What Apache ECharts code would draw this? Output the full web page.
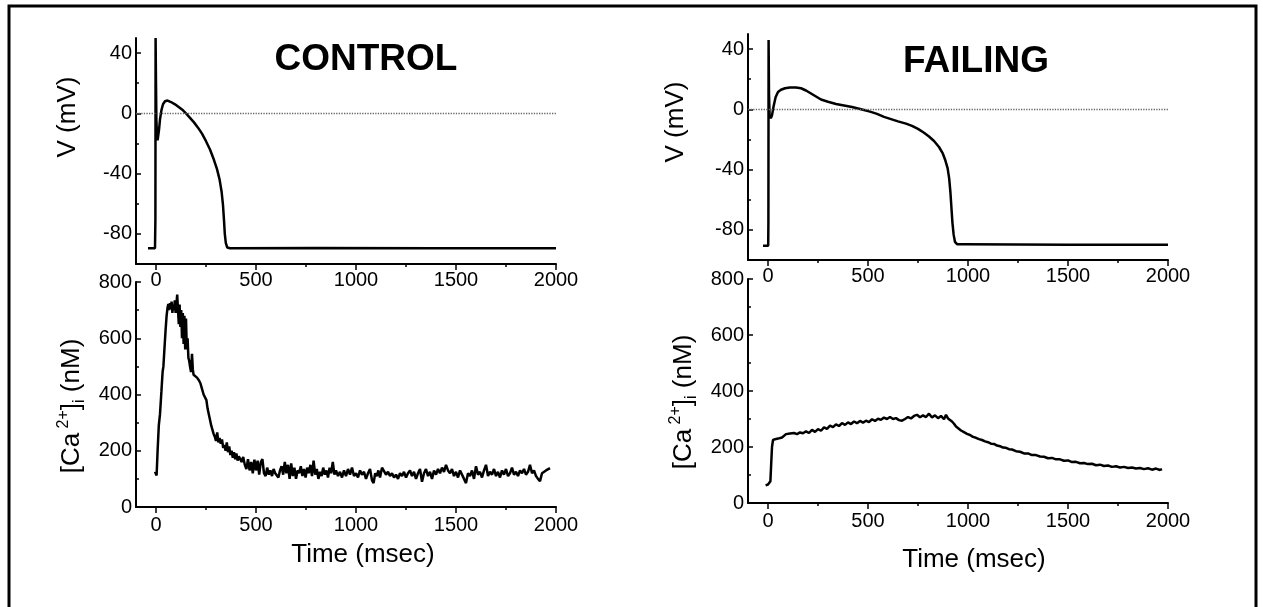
<!DOCTYPE html>
<html><head><meta charset="utf-8">
<script src="https://cdn.jsdelivr.net/npm/echarts@6/dist/echarts.min.js"></script>
<style>html,body{margin:0;padding:0;background:#fff}#c{width:1263px;height:607px}</style>
</head><body><div id="c"></div>
<script>
// ---- DATA (time in msec) ----
const panelTitles = ['CONTROL', 'FAILING'];
const vAxisName = 'V (mV)';
const timeAxisName = 'Time (msec)';

const xTicks = [0, 500, 1000, 1500, 2000];
const xMinorTicks = [250, 750, 1250, 1750];
const vTicks = [-80, -40, 0, 40];
const vMinorTicks = [-60, -20, 20];
const caTicks = [0, 200, 400, 600, 800];
const caMinorTicks = [100, 300, 500, 700];

const controlV = [[-40,-89.5],[-5,-89.5],[-3,-70],[-2,50],[0,20],[2,-5],[5,-14],[8,-18],[11,-17],[15,-11],[20,-4],[27,2],[35,6],[45,8],[58,8.5],[75,7.5],[95,6],[115,4],[135,2],[150,0],[170,-3],[190,-6],[210,-9.5],[230,-13.5],[250,-18.5],[270,-24],[290,-31],[305,-37],[318,-44],[328,-52],[335,-61],[340,-71],[344,-80],[349,-86],[356,-89],[370,-89.5],[800,-89.3],[1400,-89.6],[2000,-89.5]];

const failingV = [[-25,-90.5],[1,-90.5],[2,-75],[3,46],[5,10],[8,-4],[14,-6],[20,-4],[28,2],[38,8],[50,11.5],[65,13],[85,14],[110,14.5],[140,14.5],[165,14],[190,12.5],[215,10.5],[240,8.5],[265,6.5],[300,5],[340,3.5],[380,2.5],[420,1.5],[450,0.5],[480,-0.5],[510,-1.5],[545,-3],[580,-5],[615,-6.5],[650,-8],[690,-9.5],[720,-11],[750,-13],[780,-15.5],[805,-18],[830,-21],[855,-25],[873,-29],[887,-34],[898,-39],[906,-46],[912,-55],[917,-65],[922,-75],[928,-83],[935,-88],[945,-89.5],[980,-89.5],[1500,-89.8],[2000,-89.8]];

const controlCa = [[-5,125],[0,118],[3,112],[8,200],[14,290],[20,330],[27,410],[33,480],[37,500],[42,560],[48,630],[53,680],[58,710],[62,722],[66,700],[70,725],[74,705],[78,730],[82,690],[86,720],[90,700],[94,735],[98,690],[102,720],[106,755],[110,700],[114,650],[118,720],[122,640],[126,700],[130,600],[134,690],[138,580],[142,680],[146,560],[150,670],[154,560],[158,600],[162,530],[166,520],[170,500],[175,480],[180,545],[184,490],[188,470],[195,475],[205,460],[215,450],[222,440],[230,420],[238,400],[245,398],[252,380],[258,350],[264,330],[270,310],[276,290],[282,275],[288,260],[294,250],[300,235],[306,265],[312,230],[318,245],[324,225],[330,240],[336,210],[342,220],[348,200],[354,230],[360,195],[366,215],[372,185],[378,200],[384,175],[390,195],[396,170],[402,190],[408,165],[414,180],[420,172],[428,160],[436,178],[444,150],[452,135],[460,170],[468,130],[476,160],[484,120],[492,168],[500,130],[508,165],[516,115],[524,160],[532,170],[540,120],[548,110],[556,140],[564,115],[572,130],[580,110],[588,135],[596,120],[604,125],[612,105],[620,130],[628,145],[636,115],[644,160],[652,120],[660,150],[668,100],[676,155],[684,110],[692,140],[700,100],[708,130],[716,120],[724,145],[732,110],[740,135],[748,105],[756,140],[764,120],[772,150],[780,110],[788,165],[796,115],[804,135],[812,100],[820,125],[828,110],[836,140],[844,115],[852,130],[860,105],[868,140],[876,120],[884,160],[892,115],[900,130],[910,110],[920,125],[930,105],[940,130],[950,110],[960,135],[970,115],[980,140],[990,110],[1000,120],[1010,105],[1020,130],[1030,115],[1040,125],[1050,100],[1060,120],[1070,135],[1080,95],[1088,85],[1096,120],[1104,110],[1112,130],[1120,105],[1130,140],[1140,145],[1150,115],[1160,125],[1170,110],[1180,120],[1190,105],[1200,115],[1210,100],[1220,120],[1230,110],[1240,125],[1250,105],[1260,120],[1270,130],[1280,110],[1290,125],[1300,100],[1310,120],[1320,135],[1330,90],[1340,120],[1350,135],[1360,110],[1370,125],[1380,100],[1390,130],[1400,115],[1410,135],[1420,120],[1430,140],[1440,125],[1450,150],[1460,130],[1470,120],[1480,135],[1490,110],[1500,125],[1510,105],[1520,130],[1530,115],[1540,100],[1550,85],[1560,120],[1570,110],[1580,130],[1590,100],[1600,145],[1610,115],[1620,125],[1630,105],[1640,130],[1650,150],[1660,110],[1670,125],[1680,115],[1690,135],[1700,110],[1710,125],[1720,105],[1730,130],[1740,115],[1750,135],[1760,110],[1770,120],[1780,140],[1790,115],[1800,125],[1810,110],[1820,130],[1830,120],[1840,135],[1850,115],[1860,125],[1870,150],[1880,120],[1890,130],[1900,110],[1910,100],[1920,92],[1930,120],[1940,115],[1950,130],[1960,125],[1970,138]];

const failingCa = [[-12,63],[0,66],[6,70],[12,78],[16,140],[20,200],[25,225],[30,232],[36,228],[42,222],[50,230],[60,226],[70,234],[80,240],[90,246],[100,242],[110,248],[120,244],[130,250],[145,246],[160,252],[175,249],[190,256],[205,250],[220,261],[235,254],[250,264],[265,258],[280,270],[295,265],[310,276],[325,271],[340,281],[355,275],[370,285],[385,279],[400,288],[415,282],[430,291],[445,285],[460,293],[475,287],[490,294],[505,289],[520,299],[535,293],[550,301],[565,297],[580,305],[595,300],[610,307],[625,300],[640,303],[655,296],[670,294],[685,300],[700,307],[715,302],[730,311],[745,315],[760,306],[775,313],[790,307],[805,319],[820,305],[835,313],[850,303],[865,311],[880,299],[890,315],[900,302],[910,298],[920,291],[930,283],[940,273],[950,269],[965,259],[980,253],[995,247],[1010,243],[1025,236],[1040,233],[1055,228],[1070,225],[1085,220],[1100,217],[1115,212],[1130,211],[1145,205],[1160,203],[1175,198],[1190,197],[1205,192],[1220,191],[1240,185],[1260,183],[1280,177],[1300,177],[1320,171],[1340,171],[1360,166],[1380,165],[1400,160],[1420,161],[1440,156],[1460,156],[1480,151],[1500,152],[1520,146],[1540,147],[1560,142],[1580,143],[1600,139],[1620,140],[1640,135],[1660,137],[1680,132],[1700,134],[1720,129],[1740,131],[1760,127],[1780,129],[1800,125],[1820,127],[1840,123],[1860,125],[1880,121],[1900,124],[1920,119],[1940,123],[1960,118],[1970,121]];

// ---- CHART ----
const FONT = '"Liberation Sans", Arial, sans-serif';
const grids = [
  {left:136, top:38,  width:420, height:226},
  {left:136, top:282, width:420, height:225},
  {left:748, top:34,  width:420, height:226},
  {left:748, top:279, width:420, height:224}
];
const panels = [
  {data: controlV,  yMin:-100, yMax:50,  major:vTicks,  minor:vMinorTicks,  isV:true},
  {data: controlCa, yMin:0,    yMax:800, major:caTicks, minor:caMinorTicks, isV:false},
  {data: failingV,  yMin:-100, yMax:50,  major:vTicks,  minor:vMinorTicks,  isV:true},
  {data: failingCa, yMin:0,    yMax:800, major:caTicks, minor:caMinorTicks, isV:false}
];
const lineAx = {show:true, onZero:false, lineStyle:{color:'#000', width:2}};
const fmt = v => String(v);
const xAxes = [], yAxes = [], series = [];
panels.forEach((p, i) => {
  xAxes.push({gridIndex:i, type:'value', position:'bottom', min:-100, max:2000,
    axisLine: lineAx, splitLine:{show:false},
    axisTick:{show:true, customValues:xTicks, length:6, lineStyle:{color:'#000', width:1.5}},
    axisLabel:{show:true, customValues:xTicks, formatter:fmt, color:'#000', fontSize:20, fontFamily:FONT, margin:p.isV ? 6 : 8}});
  xAxes.push({gridIndex:i, type:'value', position:'bottom', min:-100, max:2000,
    axisLine:{show:false, onZero:false}, splitLine:{show:false},
    axisTick:{show:true, customValues:xMinorTicks, length:3, lineStyle:{color:'#000', width:1.5}},
    axisLabel:{show:false}});
  yAxes.push({gridIndex:i, type:'value', position:'left', min:p.yMin, max:p.yMax,
    axisLine: lineAx, splitLine:{show:false},
    axisTick:{show:true, inside:true, customValues:p.major, length:5, lineStyle:{color:'#000', width:1.5}},
    axisLabel:{show:true, customValues:p.major, formatter:fmt, color:'#000', fontSize:20, fontFamily:FONT, margin:4}});
  yAxes.push({gridIndex:i, type:'value', position:'left', min:p.yMin, max:p.yMax,
    axisLine:{show:false, onZero:false}, splitLine:{show:false},
    axisTick:{show:true, inside:true, customValues:p.minor, length:3, lineStyle:{color:'#000', width:1.5}},
    axisLabel:{show:false}});
  const s = {type:'line', xAxisIndex:2*i, yAxisIndex:2*i, data:p.data, showSymbol:false,
    lineStyle:{color:'#000', width:2.5}, animation:false, z:3};
  if (p.isV) {
    s.markLine = {silent:true, symbol:['none','none'], label:{show:false},
      lineStyle:{color:'#666', type:'dotted', width:1.3}, data:[{yAxis:0}], animation:false};
  }
  series.push(s);
});

function txt(x, y, text, size, opts) {
  return Object.assign({type:'text', x:x, y:y, z:10,
    style:Object.assign({text:text, fontSize:size, fontFamily:FONT, fill:'#000', align:'center', verticalAlign:'middle'}, (opts && opts.style) || {})},
    opts && opts.el || {});
}
const caRich = {
  sup:{fontSize:16, fontFamily:FONT, fill:'#000', verticalAlign:'top', lineHeight:32},
  sub:{fontSize:16, fontFamily:FONT, fill:'#000', verticalAlign:'bottom', lineHeight:32}
};
const caName = '[Ca{sup| 2+}]{sub|i} (nM)';

const graphic = [
  {type:'rect', shape:{x:9, y:6, width:1247, height:700}, style:{fill:'none', stroke:'#000', lineWidth:3}, z:20},
  txt(366, 60, panelTitles[0], 37, {style:{fontWeight:'bold'}}),
  txt(976, 62, panelTitles[1], 37, {style:{fontWeight:'bold'}}),
  txt(68, 117, vAxisName, 26, {el:{rotation:Math.PI/2}}),
  txt(676, 122, vAxisName, 26, {el:{rotation:Math.PI/2}}),
  txt(72, 406, caName, 26, {el:{rotation:Math.PI/2}, style:{rich:caRich, lineHeight:32}}),
  txt(684, 402, caName, 26, {el:{rotation:Math.PI/2}, style:{rich:caRich, lineHeight:32}}),
  txt(363, 555, timeAxisName, 26),
  txt(974, 560, timeAxisName, 26)
];

const chart = echarts.init(document.getElementById('c'), null, {renderer:'canvas'});
chart.setOption({
  animation:false, backgroundColor:'#fff',
  grid: grids.map(g => Object.assign({containLabel:false}, g)),
  xAxis: xAxes, yAxis: yAxes, series: series, graphic: graphic
});
</script></body></html>
